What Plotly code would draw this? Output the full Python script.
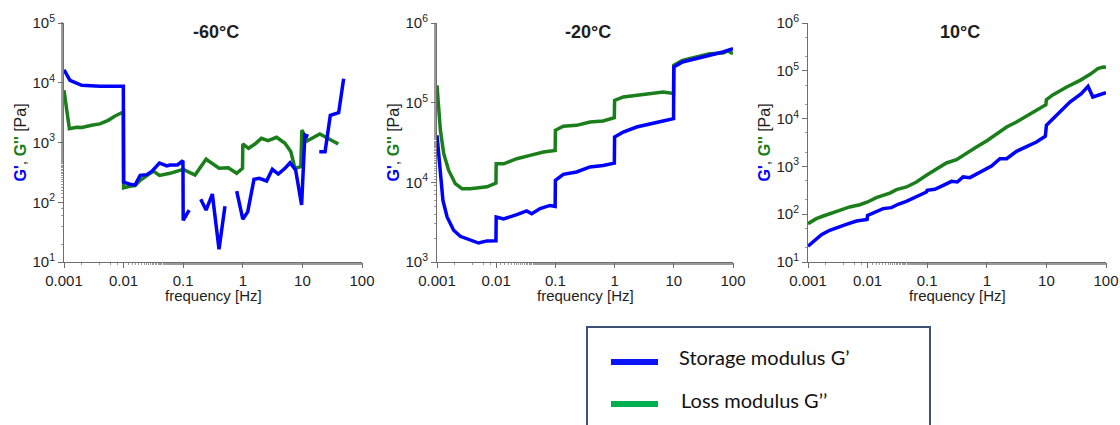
import plotly.graph_objects as go

# ---------------- data ----------------
# -60 °C sweep (None marks a gap in the measured storage modulus)
f_m60_gp = [0.001, 0.00126, 0.00198, 0.00403, 0.0099, 0.01, 0.0128, 0.0156, 0.019, 0.0245,
            0.03, 0.0399, 0.053, 0.06, 0.08, 0.099, 0.1, 0.126, 0.16,
            0.197, 0.242, 0.308, 0.399, 0.502, 0.6,
            0.79, 1.0, 1.21, 1.54, 1.89, 2.51, 3.13, 3.94, 5.1, 6.2, 7.7, 9.7,
            11.0, 12.6, 16.0,
            19.2, 24.0, 29.4, 35.0, 40.6, 49.2]
gp_m60 = [16500, 11000, 9060, 8700, 8700, 218, 200, 195, 282, 290,
          330, 454, 405, 420, 420, 495, 50, 74, None,
          112, 74, 137, 16.3, 86, None,
          154, 52, 69, 242, 251, 227, 356, 297, 370, 459, 347, 90,
          1340, 1270, None,
          702, 702, 2850, 3000, 3160, 11700]

f_m60_gpp = [0.001, 0.00123, 0.00163, 0.002, 0.0029, 0.004, 0.0055, 0.0072, 0.0099, 0.01, 0.0128,
             0.0156, 0.019, 0.0316, 0.04, 0.05, 0.06, 0.1, 0.158, 0.242, 0.4,
             0.57, 0.79, 0.99, 1.0, 1.25, 1.6, 2.05, 2.65, 3.7, 5.1, 6.4,
             7.5, 9.4, 9.8, 12.1, 19.6, 40.0]
gpp_m60 = [7470, 1700, 1800, 1780, 1940, 2050, 2350, 2780, 3240, 175, 185,
           190, 233, 333, 282, 290, 305, 356, 286, 524, 370,
           378, 305, 370, 944, 800, 944, 1175, 1070, 1220, 970, 700,
           370, 394, 1620, 1070, 1390, 944]

# -20 °C sweep
f_m20_gp = [0.001, 0.00114, 0.00126, 0.00148, 0.00191, 0.00247, 0.00365, 0.00504, 0.00696, 0.0099,
            0.01, 0.0133, 0.0223, 0.0327, 0.0398, 0.0552, 0.081, 0.099,
            0.1, 0.136, 0.228, 0.384, 0.64, 0.99,
            1.0, 1.4, 2.35, 3.95, 6.6, 9.9,
            10.0, 14.0, 23.9, 40.2, 67.6, 100.0]
gp_m20 = [38900, 11700, 5940, 3670, 2500, 2100, 1905, 1730, 1840, 1850,
          3670, 3470, 3930, 4370, 4040, 4680, 5130, 5000,
          10600, 12600, 13500, 15600, 16300, 17400,
          37000, 42800, 49500, 54600, 58900, 63000,
          280000, 324000, 357000, 398000, 433000, 476000]

f_m20_gpp = [0.001, 0.00114, 0.0013, 0.00157, 0.00204, 0.00264, 0.00365, 0.0054, 0.007, 0.0099,
             0.01, 0.0133, 0.0223, 0.0373, 0.063, 0.099,
             0.1, 0.136, 0.228, 0.384, 0.64, 0.99,
             1.0, 1.4, 2.35, 3.95, 6.6, 9.9,
             10.0, 14.0, 24.0, 40.0, 68.0, 82.0, 100.0]
gpp_m20 = [165000, 45000, 22900, 14200, 9620, 8320, 8320, 8710, 8800, 9770,
           17100, 17100, 19800, 21800, 24000, 25100,
           45000, 50500, 51900, 57100, 58900, 64600,
           107000, 118000, 124000, 132000, 136000, 130000,
           294000, 340000, 374000, 412000, 420000, 446000, 412000]

# 10 °C sweep
f_p10_gp = [0.001, 0.00138, 0.00168, 0.00231, 0.0032, 0.0044, 0.0065, 0.0098, 0.01, 0.0141,
            0.0182, 0.0251, 0.0325, 0.0447, 0.066, 0.097, 0.1, 0.134, 0.186, 0.256,
            0.32, 0.4, 0.52, 0.76, 0.99, 1.2, 1.66, 2.15, 3.15, 4.63, 6.8, 9.6,
            10.0, 14.8, 24.8, 38.5, 50.0, 60.0, 78.0, 100.0]
gp_p10 = [21.3, 30.8, 37.3, 46, 54, 61, 72, 78, 94.6, 117,
          131, 137, 161, 186, 229, 291, 316, 331, 402, 487,
          472, 603, 582, 764, 926, 1020, 1450, 1450, 2070, 2550, 3240, 4260,
          7220, 11700, 22200, 33200, 47300, 28300, 32200, 34900]

f_p10_gpp = [0.001, 0.00138, 0.0018, 0.0023, 0.0034, 0.005, 0.0074, 0.01, 0.014, 0.0236,
             0.0305, 0.045, 0.066, 0.097, 0.143, 0.21, 0.31, 0.46, 0.67, 0.99,
             1.45, 2.15, 3.15, 4.63, 6.8, 9.8, 10.0, 13.0, 21.9, 36.7, 54.0, 73.0, 90.0, 100.0]
gpp_p10 = [63.4, 80.7, 91.7, 103, 120, 142, 158, 180, 222, 276,
           326, 371, 472, 650, 897, 1180, 1380, 1910, 2550, 3400,
           4840, 6670, 8490, 11100, 14900, 19500, 24900, 31600, 45800, 63100, 84300, 111000, 120000, 118000]

panel_titles = ["-60°C", "-20°C", "10°C"]
y_decades = [(1, 5), (3, 6), (1, 6)]
x_tickvals = [0.001, 0.01, 0.1, 1, 10, 100]
x_ticktext = ["0.001", "0.01", "0.1", "1", "10", "100"]
legend_labels = ["Storage modulus G\u2019", "Loss modulus G\u2019\u2019"]

# ---------------- styling ----------------
W, H = 1120, 425
BLUE = "#0000FF"
GREEN = "#1A7F1A"
LEG_BLUE = "#0A14F5"
LEG_GREEN = "#00B050"
TXT = "#1E1E1E"
AX = "#6E6E6E"
FONT = "'Liberation Sans', Arial, sans-serif"
LEG_FONT = "Lato, 'Noto Sans', sans-serif"

# plot areas in pixels: (left, right, top, bottom)
areas = [(64, 362, 23, 262), (437, 733, 23, 262), (808, 1106, 23, 262)]

series = [
    (f_m60_gp, gp_m60, f_m60_gpp, gpp_m60),
    (f_m20_gp, gp_m20, f_m20_gpp, gpp_m20),
    (f_p10_gp, gp_p10, f_p10_gpp, gpp_p10),
]


def px(xp):
    return xp / W


def py(yp):
    return 1 - yp / H


fig = go.Figure()
layout_axes = {}
annotations = []

for i, ((l, r, t, b), (fx1, g1, fx2, g2), title, (dlo, dhi)) in enumerate(
        zip(areas, series, panel_titles, y_decades)):
    n = "" if i == 0 else str(i + 1)
    xa, ya = "x" + n, "y" + n
    fig.add_trace(go.Scatter(x=fx2, y=g2, mode="lines", xaxis=xa, yaxis=ya,
                             line=dict(color=GREEN, width=3.5), showlegend=False))
    fig.add_trace(go.Scatter(x=fx1, y=g1, mode="lines", xaxis=xa, yaxis=ya,
                             line=dict(color=BLUE, width=3.5), connectgaps=False,
                             showlegend=False))
    common_x = dict(
        type="log", domain=[px(l), px(r)], range=[-3, 2], anchor=ya, automargin=False,
        tickvals=x_tickvals, ticktext=x_ticktext, ticks="outside", ticklen=5,
        tickcolor=AX, showline=True, linecolor=AX, linewidth=1, showgrid=False,
        zeroline=False, tickfont=dict(family=FONT, size=15, color=TXT),
        minor=dict(ticks="outside", ticklen=2, tickcolor="#9A9A9A", showgrid=False),
    )
    yvals = [10 ** k for k in range(dlo, dhi + 1)]
    ytext = ["10<sup>%d</sup>" % k for k in range(dlo, dhi + 1)]
    common_y = dict(
        type="log", domain=[py(b), py(t)], range=[dlo, dhi], anchor=xa, automargin=False,
        tickvals=yvals, ticktext=ytext, ticks="outside", ticklen=5,
        tickcolor=AX, showline=True, linecolor=AX, linewidth=1, showgrid=False,
        zeroline=False, tickfont=dict(family=FONT, size=15, color=TXT),
        minor=dict(ticks="outside", ticklen=2, tickcolor="#9A9A9A", showgrid=False),
    )
    layout_axes["xaxis" + n] = common_x
    layout_axes["yaxis" + n] = common_y

    cx = (l + r) / 2 + 3
    annotations.append(dict(text="<b>%s</b>" % title, x=px(cx), y=py(32),
                            xref="paper", yref="paper", xanchor="center", yanchor="middle",
                            showarrow=False, font=dict(family=FONT, size=18, color=TXT)))
    annotations.append(dict(text="frequency [Hz]", x=px((l + r) / 2), y=py(295),
                            xref="paper", yref="paper", xanchor="center", yanchor="middle",
                            showarrow=False, font=dict(family=FONT, size=15, color=TXT)))
    annotations.append(dict(
        text="<b><span style='color:%s'>G'</span></b>, <b><span style='color:%s'>G''</span></b> [Pa]"
             % (BLUE, GREEN),
        x=px(l - 44), y=py((t + b) / 2), xref="paper", yref="paper",
        xanchor="center", yanchor="middle",
        textangle=-90, showarrow=False, font=dict(family=FONT, size=16, color=TXT)))

# legend box
shapes = [
    dict(type="rect", xref="paper", yref="paper",
         x0=px(587), x1=px(930), y0=-0.02, y1=py(327),
         line=dict(color="#3E5275", width=2), fillcolor="rgba(0,0,0,0)"),
    dict(type="line", xref="paper", yref="paper",
         x0=px(611), x1=px(658), y0=py(362), y1=py(362),
         line=dict(color=LEG_BLUE, width=6)),
    dict(type="line", xref="paper", yref="paper",
         x0=px(611), x1=px(658), y0=py(404), y1=py(404),
         line=dict(color=LEG_GREEN, width=6)),
]
annotations.append(dict(text=legend_labels[0], x=px(677), y=py(357),
                        xref="paper", yref="paper", xanchor="left", yanchor="middle",
                        showarrow=False, font=dict(family=LEG_FONT, size=20, color="#111111")))
annotations.append(dict(text=legend_labels[1], x=px(679), y=py(400),
                        xref="paper", yref="paper", xanchor="left", yanchor="middle",
                        showarrow=False, font=dict(family=LEG_FONT, size=20, color="#111111")))

fig.update_layout(
    width=W, height=H, margin=dict(l=0, r=0, t=0, b=0, autoexpand=False),
    paper_bgcolor="white", plot_bgcolor="white",
    annotations=annotations, shapes=shapes, showlegend=False,
    **layout_axes,
)

fig.write_html("out.html", config={"displayModeBar": False})
